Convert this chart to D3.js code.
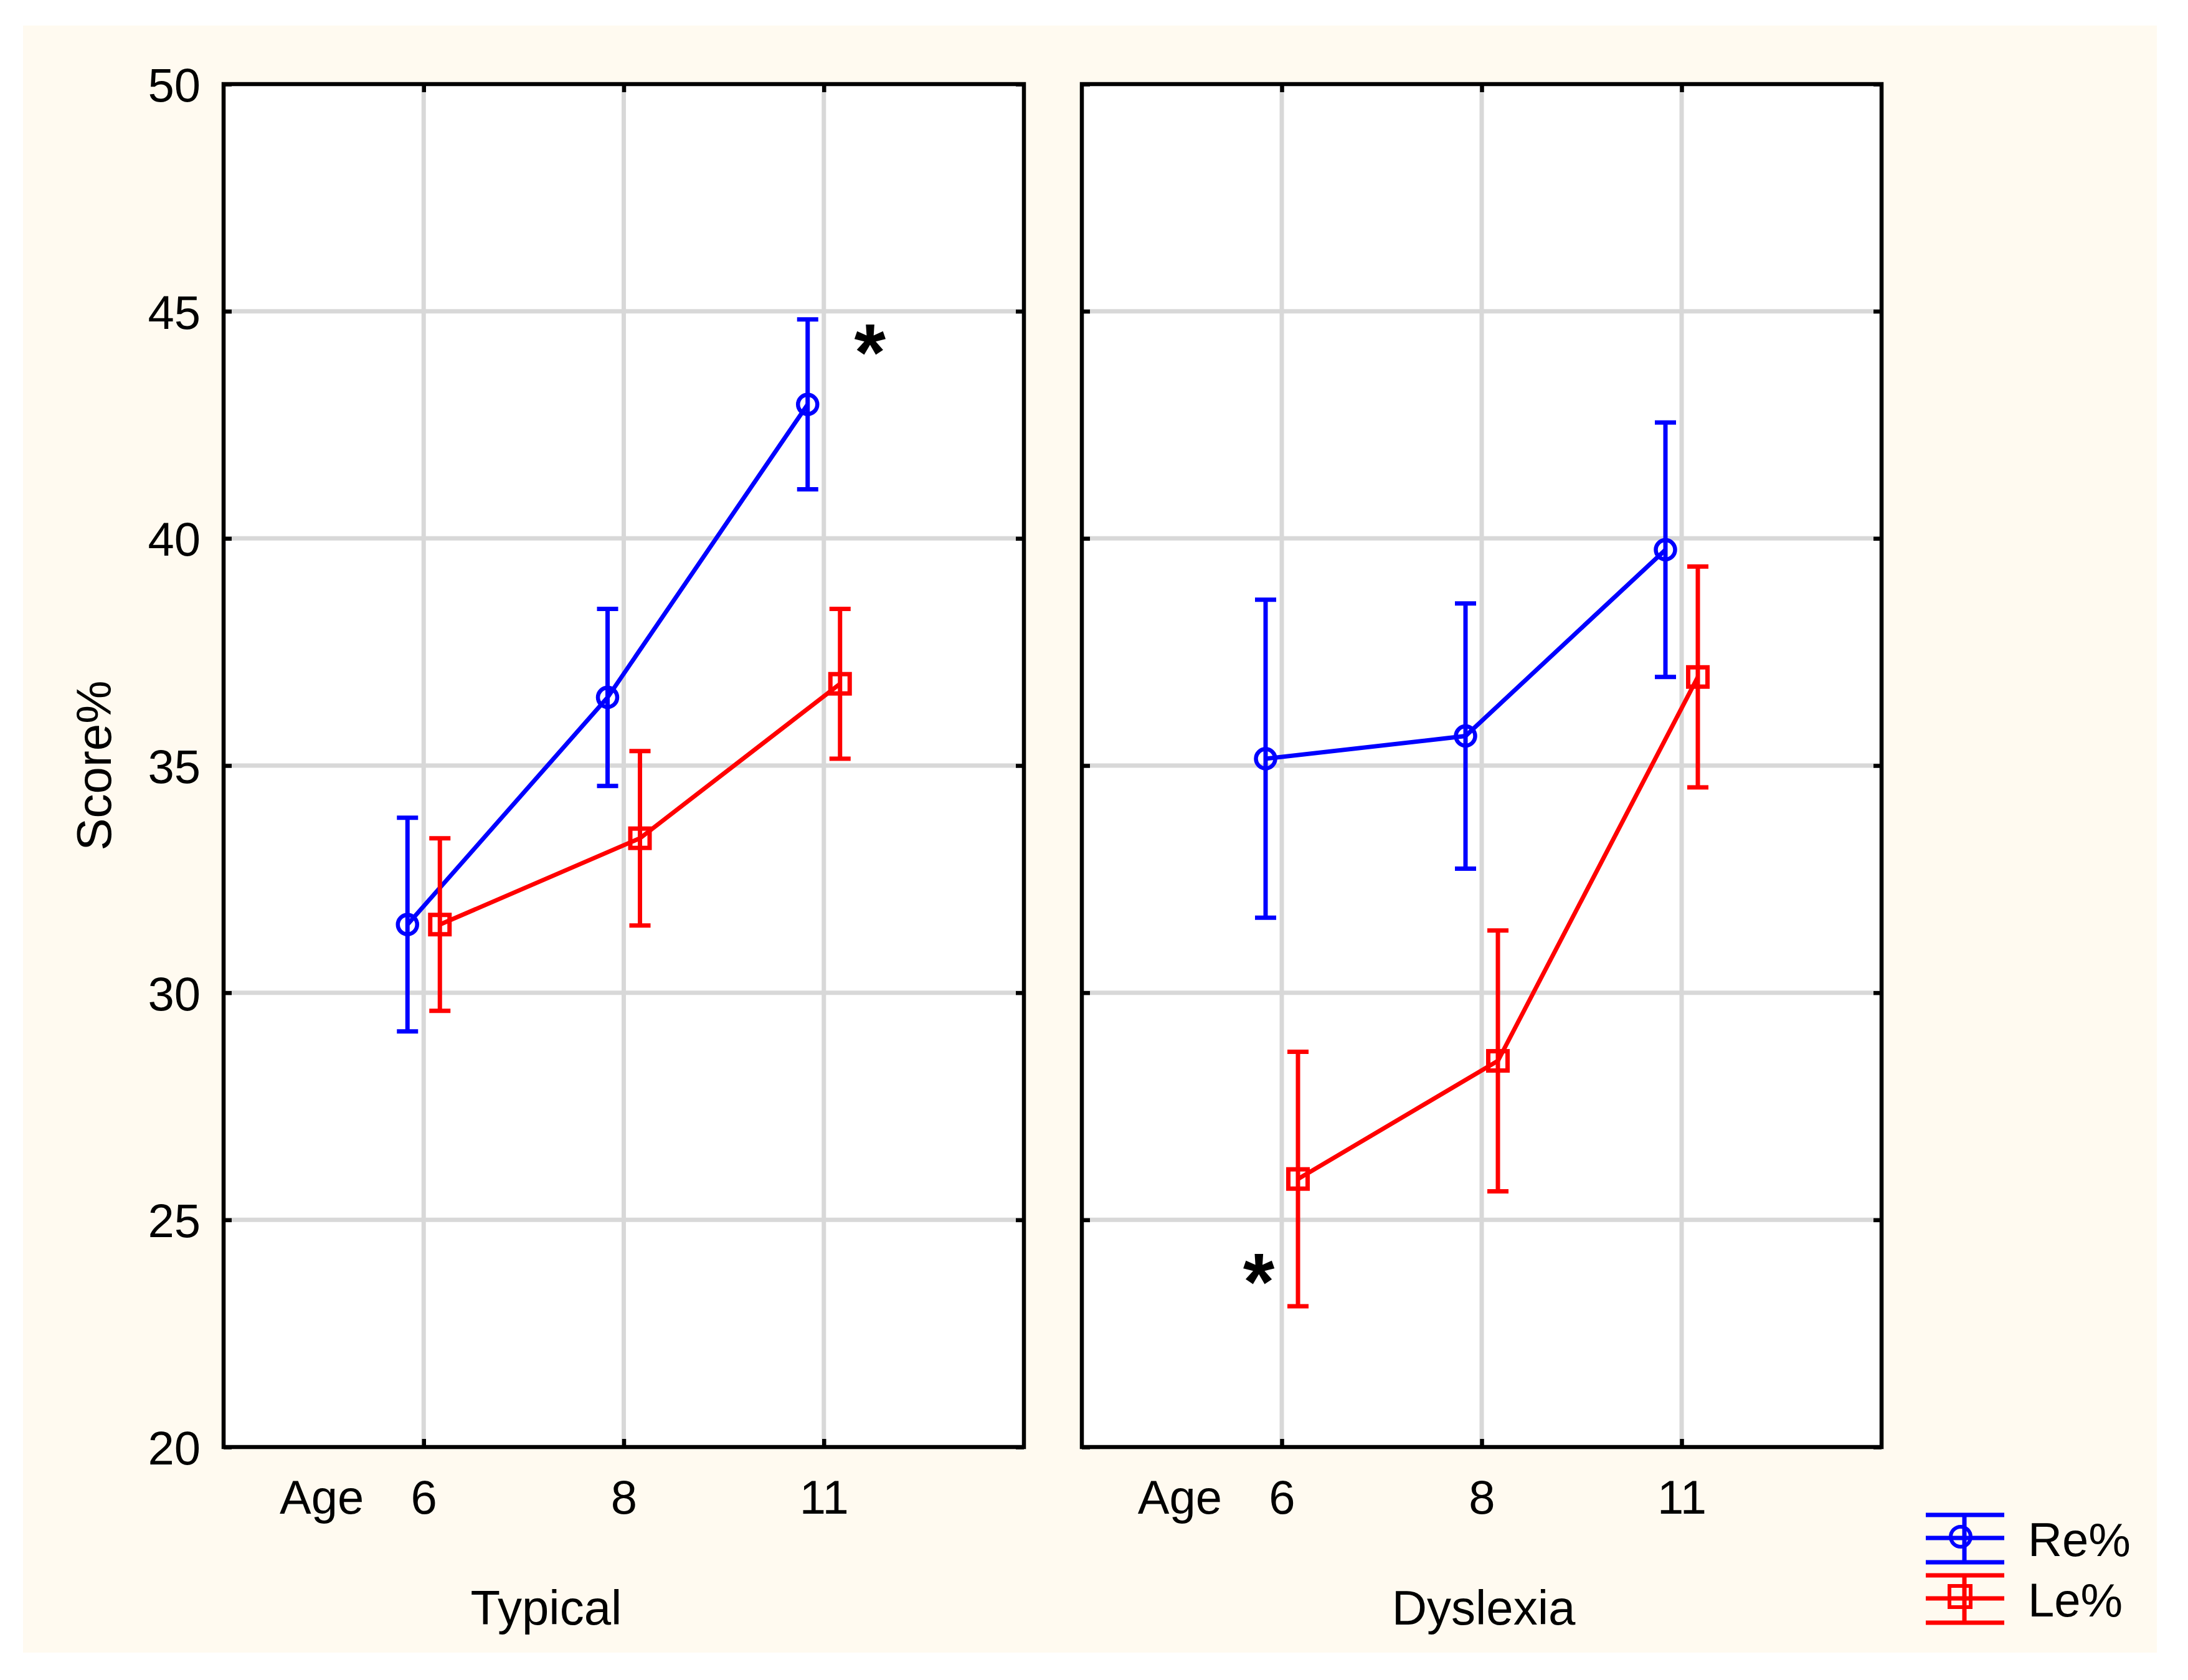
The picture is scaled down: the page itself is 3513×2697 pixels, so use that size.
<!DOCTYPE html>
<html>
<head>
<meta charset="utf-8">
<script src="https://cdn.jsdelivr.net/npm/d3@7"></script>
<style>
  body { margin: 0; background: #ffffff; }
  text { font-family: "Liberation Sans", Arial, sans-serif; fill: #000; }
</style>
</head>
<body>
<svg id="chart"></svg>
<script>
// data
var ages = ["6", "8", "11"];
var groups = ["Typical", "Dyslexia"];
var seriesNames = ["Re%", "Le%"];
var seriesColors = ["#0000ff", "#ff0000"];
// means, per group, per age
var reMean = [[31.5, 36.5, 42.95], [35.15, 35.65, 39.75]];
var leMean = [[31.5, 33.4, 36.8], [25.9, 28.5, 36.95]];
// half width of error bars
var reErr = [[2.35, 1.95, 1.87], [3.5, 2.92, 2.8]];
var leErr = [[1.9, 1.92, 1.65], [2.8, 2.87, 2.43]];
var yTicks = [20, 25, 30, 35, 40, 45, 50];
// asterisks: [group, age, value]
var stars = [[0, "11", 44.5], [1, "6", 24.05]];

var width = 3513, height = 2697;
var svg = d3.select("#chart").attr("width", width).attr("height", height);

svg.append("rect")
  .attr("x", 37).attr("y", 41)
  .attr("width", 3426).attr("height", 2612)
  .attr("fill", "#fffaf0");

var plotTop = 135, plotBottom = 2323;
var panelX = [[359, 1644], [1737, 3021]];
var titleX = [877, 2382];

var y = d3.scaleLinear().domain([20, 50]).range([plotBottom, plotTop]);

var series = [
  {name: seriesNames[0], color: seriesColors[0], mean: reMean, err: reErr, shape: "circle", off: -26},
  {name: seriesNames[1], color: seriesColors[1], mean: leMean, err: leErr, shape: "square", off: 26}
];

groups.forEach(function(gname, gi) {
  var x = d3.scalePoint().domain(ages).range(panelX[gi]).padding(1);
  var g = svg.append("g");

  g.append("rect")
    .attr("x", panelX[gi][0]).attr("y", plotTop)
    .attr("width", panelX[gi][1] - panelX[gi][0]).attr("height", plotBottom - plotTop)
    .attr("fill", "#ffffff");

  // grid
  g.selectAll(".hgrid").data(yTicks.slice(1, -1)).enter().append("line")
    .attr("x1", panelX[gi][0]).attr("x2", panelX[gi][1])
    .attr("y1", function(d) { return y(d); }).attr("y2", function(d) { return y(d); })
    .attr("stroke", "#d8d8d8").attr("stroke-width", 7);
  g.selectAll(".vgrid").data(ages).enter().append("line")
    .attr("x1", function(d) { return x(d); }).attr("x2", function(d) { return x(d); })
    .attr("y1", plotTop).attr("y2", plotBottom)
    .attr("stroke", "#d8d8d8").attr("stroke-width", 7);

  // frame
  g.append("rect")
    .attr("x", panelX[gi][0]).attr("y", plotTop)
    .attr("width", panelX[gi][1] - panelX[gi][0]).attr("height", plotBottom - plotTop)
    .attr("fill", "none").attr("stroke", "#000").attr("stroke-width", 6.5);

  // inner ticks on four sides
  var left = g.append("g").attr("transform", "translate(" + panelX[gi][0] + ",0)")
    .call(d3.axisLeft(y).tickValues(yTicks).tickSize(-13).tickPadding(37)
      .tickFormat(gi == 0 ? d3.format("d") : ""));
  var right = g.append("g").attr("transform", "translate(" + panelX[gi][1] + ",0)")
    .call(d3.axisRight(y).tickValues(yTicks).tickSize(-13).tickFormat(""));
  var topAx = g.append("g").attr("transform", "translate(0," + plotTop + ")")
    .call(d3.axisTop(x).tickSize(-13).tickFormat(""));
  var bot = g.append("g").attr("transform", "translate(0," + plotBottom + ")")
    .call(d3.axisBottom(x).tickSize(-13).tickPadding(53));
  [left, right, topAx, bot].forEach(function(a) {
    a.select(".domain").remove();
    a.selectAll("line").attr("stroke", "#000").attr("stroke-width", 6.5);
    a.selectAll("text").attr("font-size", 76).attr("font-family", "Liberation Sans, Arial, sans-serif");
  });
  left.selectAll("text").attr("dy", "0.36em");

  g.append("text")
    .attr("x", x(ages[0]) - 96).attr("y", 2430)
    .attr("text-anchor", "end").attr("font-size", 76)
    .text("Age");

  g.append("text")
    .attr("x", titleX[gi]).attr("y", 2608)
    .attr("text-anchor", "middle").attr("font-size", 78)
    .text(gname);

  series.forEach(function(s) {
    var pts = ages.map(function(a, i) {
      return {x: x(a) + s.off, m: s.mean[gi][i], e: s.err[gi][i]};
    });
    g.append("path")
      .datum(pts)
      .attr("d", d3.line().x(function(d) { return d.x; }).y(function(d) { return y(d.m); }))
      .attr("fill", "none").attr("stroke", s.color).attr("stroke-width", 7);

    var eb = g.selectAll(null).data(pts).enter().append("g").attr("stroke", s.color).attr("stroke-width", 7);
    eb.append("line")
      .attr("x1", function(d) { return d.x; }).attr("x2", function(d) { return d.x; })
      .attr("y1", function(d) { return y(d.m + d.e); }).attr("y2", function(d) { return y(d.m - d.e); });
    eb.append("line")
      .attr("x1", function(d) { return d.x - 17; }).attr("x2", function(d) { return d.x + 17; })
      .attr("y1", function(d) { return y(d.m + d.e); }).attr("y2", function(d) { return y(d.m + d.e); });
    eb.append("line")
      .attr("x1", function(d) { return d.x - 17; }).attr("x2", function(d) { return d.x + 17; })
      .attr("y1", function(d) { return y(d.m - d.e); }).attr("y2", function(d) { return y(d.m - d.e); });

    if (s.shape == "circle") {
      g.selectAll(null).data(pts).enter().append("circle")
        .attr("cx", function(d) { return d.x; }).attr("cy", function(d) { return y(d.m); })
        .attr("r", 15.5).attr("fill", "none").attr("stroke", s.color).attr("stroke-width", 6.5);
    } else {
      g.selectAll(null).data(pts).enter().append("rect")
        .attr("x", function(d) { return d.x - 15.5; }).attr("y", function(d) { return y(d.m) - 15.5; })
        .attr("width", 31).attr("height", 31)
        .attr("fill", "none").attr("stroke", s.color).attr("stroke-width", 7);
    }
  });

  stars.filter(function(s) { return s[0] == gi; }).forEach(function(s) {
    var sx = gi == 0 ? x(s[1]) + 74 : x(s[1]) - 37;
    g.append("text")
      .attr("x", sx).attr("y", y(s[2]) + 75)
      .attr("text-anchor", "middle").attr("font-size", 130).attr("font-weight", "bold")
      .text("*");
  });
});

// y title
svg.append("text")
  .attr("transform", "translate(178," + ((plotTop + plotBottom) / 2) + ") rotate(-90)")
  .attr("text-anchor", "middle").attr("font-size", 78)
  .text("Score%");

// legend
var legend = svg.append("g").attr("transform", "translate(3092,2432)");
series.forEach(function(s, i) {
  var lg = legend.append("g").attr("transform", "translate(0," + (i * 97) + ")")
    .attr("stroke", s.color).attr("stroke-width", 7);
  [0, 37, 76].forEach(function(yy) {
    lg.append("line").attr("x1", 0).attr("x2", 126).attr("y1", yy).attr("y2", yy);
  });
  lg.append("line").attr("x1", 62).attr("x2", 62).attr("y1", 0).attr("y2", 76);
  if (s.shape == "circle") {
    lg.append("circle").attr("cx", 56).attr("cy", 35).attr("r", 16).attr("fill", "none").attr("stroke-width", 6);
  } else {
    lg.append("rect").attr("x", 38).attr("y", 17).attr("width", 34).attr("height", 34).attr("fill", "none").attr("stroke-width", 6);
  }
  legend.append("text")
    .attr("x", 164).attr("y", 66 + i * 97)
    .attr("font-size", 76)
    .text(s.name);
});
</script>
</body>
</html>
